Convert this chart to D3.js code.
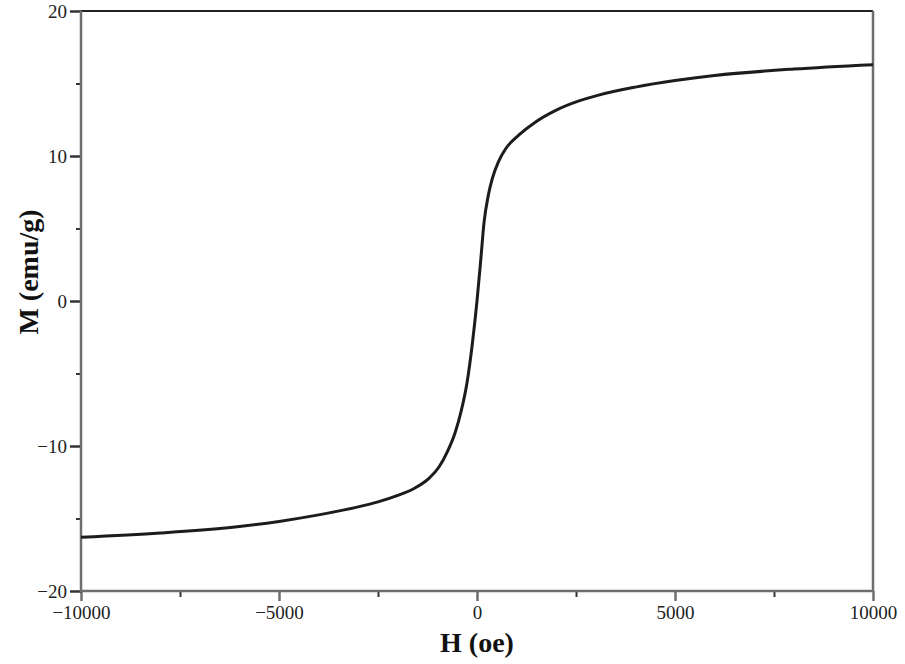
<!DOCTYPE html>
<meta charset="utf-8">
<style>
  body { margin: 0; background: #fff; }
  .tick text { font-family: "Liberation Serif", "DejaVu Serif", serif; font-size: 19px; fill: #222; }
  .axis-title { font-family: "Liberation Serif", serif; font-weight: bold; font-size: 28px; fill: #111; }
  path.domain { display: none; }
</style>
<body></body>
<script src="https://d3js.org/d3.v7.min.js"></script>
<script>

// field H (oe) and magnetisation M (emu/g)
var fieldH = [-10000, -8000, -6000, -5000, -4000, -3000, -2500, -2000, -1600, -1200, -960, -750, -555, -400, -250, -120, 0,
              100, 177, 286, 387, 540, 725, 1060, 1480, 1990, 2575, 3000, 4000, 5000, 6000, 8000, 10000];
var magM = [-16.3, -16.0, -15.55, -15.2, -14.75, -14.2, -13.85, -13.4, -12.95, -12.2, -11.45, -10.4, -9.1, -7.6, -5.6, -3.0, 0,
            3.0, 5.4, 7.3, 8.45, 9.6, 10.5, 11.45, 12.35, 13.15, 13.8, 14.15, 14.75, 15.2, 15.55, 16.0, 16.3];

var xMajor = [-10000, -5000, 0, 5000, 10000];
var xMinor = [-7500, -2500, 2500, 7500];
var yMajor = [-20, -10, 0, 10, 20];
var yMinor = [-15, -5, 5, 15];

var margin = {top: 11, right: 32, bottom: 73, left: 81};
var W = 905, H = 664;
var w = W - margin.left - margin.right,
    h = H - margin.top - margin.bottom;

var svg = d3.select("body").append("svg")
    .attr("width", W)
    .attr("height", H);

var g = svg.append("g")
    .attr("transform", "translate(" + margin.left + "," + margin.top + ")");

var x = d3.scaleLinear().domain([-10000, 10000]).range([0, w]);
var y = d3.scaleLinear().domain([-20, 20]).range([h, 0]);

var axisCol = "#6e6e6e";

// minor ticks
g.append("g")
    .attr("transform", "translate(0," + h + ")")
    .call(d3.axisBottom(x).tickValues(xMinor).tickSize(6).tickFormat(""))
    .selectAll("line").attr("stroke", "#333").attr("stroke-width", 2);
g.append("g")
    .call(d3.axisLeft(y).tickValues(yMinor).tickSize(5).tickFormat(""))
    .selectAll("line").attr("stroke", "#333").attr("stroke-width", 2);

// major ticks + labels
var xa = g.append("g")
    .attr("transform", "translate(0," + h + ")")
    .call(d3.axisBottom(x).tickValues(xMajor).tickSize(10).tickPadding(5).tickFormat(d3.format("d")));
xa.selectAll("line").attr("stroke", axisCol).attr("stroke-width", 2.5);
xa.selectAll("text").text(function(d) { return d < 0 ? "\u2212" + Math.abs(d) : d; });

var ya = g.append("g")
    .call(d3.axisLeft(y).tickValues(yMajor).tickSize(11).tickPadding(3));
ya.selectAll("line").attr("stroke", "#333").attr("stroke-width", 2.5);
ya.selectAll("text").text(function(d) { return d < 0 ? "\u2212" + Math.abs(d) : d; });

// frame
g.append("line").attr("x1", 0).attr("x2", w).attr("y1", 0).attr("y2", 0)
    .attr("stroke", "#222").attr("stroke-width", 2);
g.append("line").attr("x1", w).attr("x2", w).attr("y1", 0).attr("y2", h)
    .attr("stroke", axisCol).attr("stroke-width", 2.5);
g.append("line").attr("x1", 0).attr("x2", 0).attr("y1", 0).attr("y2", h + 1)
    .attr("stroke", axisCol).attr("stroke-width", 2.5);
g.append("line").attr("x1", 0).attr("x2", w).attr("y1", h).attr("y2", h)
    .attr("stroke", axisCol).attr("stroke-width", 2.5);

// curve
var pts = fieldH.map(function(d, i) { return [d, magM[i]]; });
var line = d3.line()
    .x(function(d) { return x(d[0]); })
    .y(function(d) { return y(d[1]); })
    .curve(d3.curveMonotoneX);

g.append("path")
    .datum(pts)
    .attr("fill", "none")
    .attr("stroke", "#1c1c1c")
    .attr("stroke-width", 3)
    .attr("d", line);

// axis titles
svg.append("text")
    .attr("class", "axis-title")
    .attr("x", margin.left + x(0))
    .attr("y", 652)
    .attr("text-anchor", "middle")
    .text("H (oe)");

svg.append("text")
    .attr("class", "axis-title")
    .attr("transform", "translate(38," + 272 + ") rotate(-90)")
    .attr("text-anchor", "middle")
    .text("M (emu/g)");

</script>
